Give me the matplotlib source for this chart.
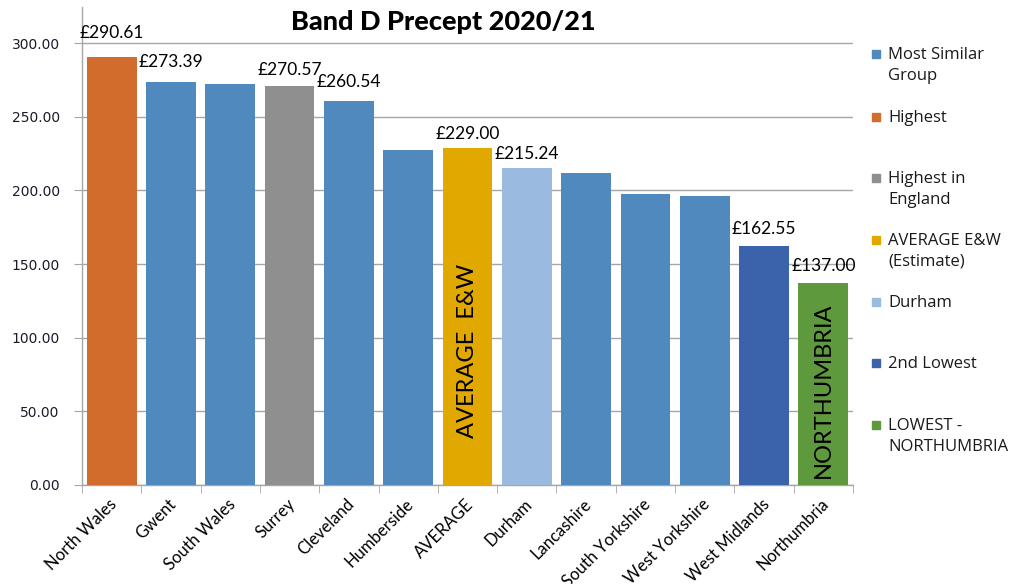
import matplotlib
matplotlib.use("Agg")
import matplotlib.pyplot as plt
import matplotlib.transforms as mtransforms
from matplotlib.patches import Rectangle

categories = ["North Wales", "Gwent", "South Wales", "Surrey", "Cleveland", "Humberside",
              "AVERAGE", "Durham", "Lancashire", "South Yorkshire", "West Yorkshire",
              "West Midlands", "Northumbria"]
values = [290.61, 273.39, 272.3, 270.57, 260.54, 227.5, 229.00, 215.24, 211.8, 197.6,
          196.2, 162.55, 137.00]
groups = ["Highest", "Most Similar Group", "Most Similar Group", "Highest in England",
          "Most Similar Group", "Most Similar Group", "AVERAGE E&W (Estimate)", "Durham",
          "Most Similar Group", "Most Similar Group", "Most Similar Group", "2nd Lowest",
          "LOWEST - NORTHUMBRIA"]
labelled = [True, True, False, True, True, False, True, True, False, False, False, True, True]
label_gap_px = [24, 20, 0, 16, 19, 0, 14, 14, 0, 0, 0, 17, 17]
legend_entries = ["Most Similar Group", "Highest", "Highest in England",
                  "AVERAGE E&W (Estimate)", "Durham", "2nd Lowest", "LOWEST - NORTHUMBRIA"]
legend_texts = ["Most Similar\nGroup", "Highest", "Highest in\nEngland",
                "AVERAGE E&W\n(Estimate)", "Durham", "2nd Lowest", "LOWEST -\nNORTHUMBRIA"]
colors = {
    "Most Similar Group": "#4F89BD",
    "Highest": "#D26C2C",
    "Highest in England": "#8F8F8F",
    "AVERAGE E&W (Estimate)": "#E1A900",
    "Durham": "#9ABADF",
    "2nd Lowest": "#3B63AB",
    "LOWEST - NORTHUMBRIA": "#5F993D",
}
yticks = [0, 50, 100, 150, 200, 250, 300]

fig = plt.figure(figsize=(10.13, 5.84), dpi=100)
ax = fig.add_axes([82 / 1013, 1 - 485 / 584, (853 - 82) / 1013, (485 - 7) / 584])

x = list(range(len(categories)))
bar_colors = [colors[g] for g in groups]
bars = ax.bar(x, values, width=0.84, color=bar_colors, zorder=3, linewidth=0)

ax.set_xlim(-0.5, len(categories) - 0.5)
ax.set_ylim(0, 324.5)
ax.set_yticks(yticks)
ax.set_yticklabels([f"{v:.2f}" for v in yticks], fontsize=10, color="#1a1a2a",
                   family="DejaVu Sans")
ax.yaxis.grid(True, color="#A6A6A6", linewidth=1.0, zorder=0)
ax.set_axisbelow(True)
ax.tick_params(axis="y", direction="out", length=6, color="#A6A6A6", pad=10)

ax.set_xticks(x)
ax.set_xticklabels(categories, rotation=45, ha="right", va="center", rotation_mode="anchor",
                   fontsize=12, family="Lato", color="black")
ax.tick_params(axis="x", length=0, pad=12)
shift = mtransforms.ScaledTranslation(3 / 100, 0, fig.dpi_scale_trans)
for t in ax.get_xticklabels():
    t.set_transform(t.get_transform() + shift)
ax.set_xticks([i + 0.5 for i in range(-1, len(categories))], minor=True)
ax.tick_params(axis="x", which="minor", length=6, color="#A6A6A6", direction="out")

for s in ["top", "right"]:
    ax.spines[s].set_visible(False)
for s in ["left", "bottom"]:
    ax.spines[s].set_color("#A6A6A6")
    ax.spines[s].set_linewidth(1.0)

for i, (v, lab, gap) in enumerate(zip(values, labelled, label_gap_px)):
    if lab:
        ax.annotate(f"£{v:.2f}", (i, v), xytext=(0, gap * 0.72), textcoords="offset points",
                    ha="center", va="center", fontsize=12.5, family="Lato", color="black")

ax.text(categories.index("AVERAGE"), 91, "AVERAGE  E&W", rotation=90, ha="center",
        va="center", fontsize=17, family="Lato", color="black", zorder=4)
ax.text(categories.index("Northumbria"), 64.5, "NORTHUMBRIA", rotation=90, ha="center",
        va="center", fontsize=17, family="Lato", color="black", zorder=4)

fig.text(443 / 1013, 1 - 22 / 584, "Band D Precept 2020/21", ha="center", va="center",
         fontsize=19.5, fontweight="black", family="Lato")

ys = [54, 117, 178, 240, 302, 363, 425]
for key, txt, yy in zip(legend_entries, legend_texts, ys):
    fig.add_artist(Rectangle((872 / 1013, 1 - (yy + 4) / 584), 8 / 1013, 8 / 584,
                             transform=fig.transFigure, color=colors[key]))
    fig.text(888 / 1013, 1 - (yy - 7) / 584, txt, ha="left", va="top", fontsize=12,
             family="Open Sans", linespacing=1.4, color="#1a1a1a")

fig.savefig("out.png", dpi=100)
